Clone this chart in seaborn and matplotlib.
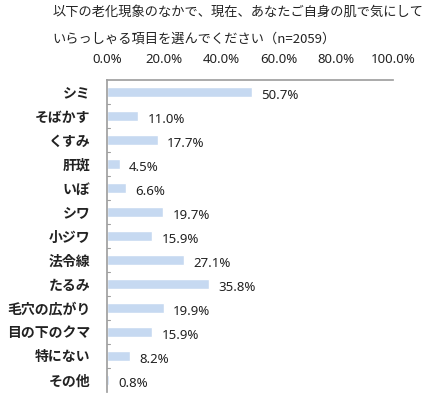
import matplotlib
matplotlib.use("Agg")
import matplotlib.pyplot as plt
import seaborn as sns
import pandas as pd

# data
categories = ["シミ", "そばかす", "くすみ", "肝斑", "いぼ", "シワ", "小ジワ", "法令線",
              "たるみ", "毛穴の広がり", "目の下のクマ", "特にない", "その他"]
values = [50.7, 11.0, 17.7, 4.5, 6.6, 19.7, 15.9, 27.1, 35.8, 19.9, 15.9, 8.2, 0.8]
x_ticks = [0, 20, 40, 60, 80, 100]
title = "以下の老化現象のなかで、現在、あなたご自身の肌で気にして\nいらっしゃる項目を選んでください（n=2059）"

sns.set_theme(style="white")
plt.rcParams['font.family'] = ['Noto Sans CJK JP', 'DejaVu Sans']
num_font = ['Noto Sans', 'DejaVu Sans']

df = pd.DataFrame({"item": categories, "pct": values})

fig = plt.figure(figsize=(4.28, 3.97), dpi=100)
ax = fig.add_axes([0.25, 0.013, 0.668, 0.785])

sns.barplot(data=df, x="pct", y="item", color="#C6D9F1", saturation=1,
            width=0.42, ax=ax)

ax.set_xlim(0, 100)
ax.set_ylim(len(categories) - 0.5, -0.5)
ax.xaxis.tick_top()
ax.set_xticks(x_ticks)
ax.set_xticklabels([f"{t:.1f}%" for t in x_ticks], fontsize=9.5, color="#222222",
                   family=num_font)
ax.tick_params(axis="x", length=0, pad=10)
ax.tick_params(axis="y", length=0, pad=12)
for lab in ax.get_yticklabels():
    lab.set_fontsize(10)
    lab.set_fontweight("bold")
    lab.set_color("#222222")
ax.set_xlabel("")
ax.set_ylabel("")

for s in ["right", "bottom"]:
    ax.spines[s].set_visible(False)
ax.spines["top"].set_color("#a0a0a0")
ax.spines["left"].set_color("#a0a0a0")

# small marks between categories on the left spine
for b in range(1, len(categories)):
    ax.plot([0, 1.2], [b - 0.5, b - 0.5], color="#a0a0a0", lw=0.8, clip_on=False)

for i, v in enumerate(values):
    ax.text(v + 3.2, i + 0.15, f"{v:.1f}%", va="center", ha="left",
            fontsize=9.5, color="#222222", family=num_font)

fig.text(0.122, 0.985, title, ha="left", va="top", fontsize=9.5,
         color="#222222", linespacing=2.35)

fig.savefig("out.png", dpi=100)
